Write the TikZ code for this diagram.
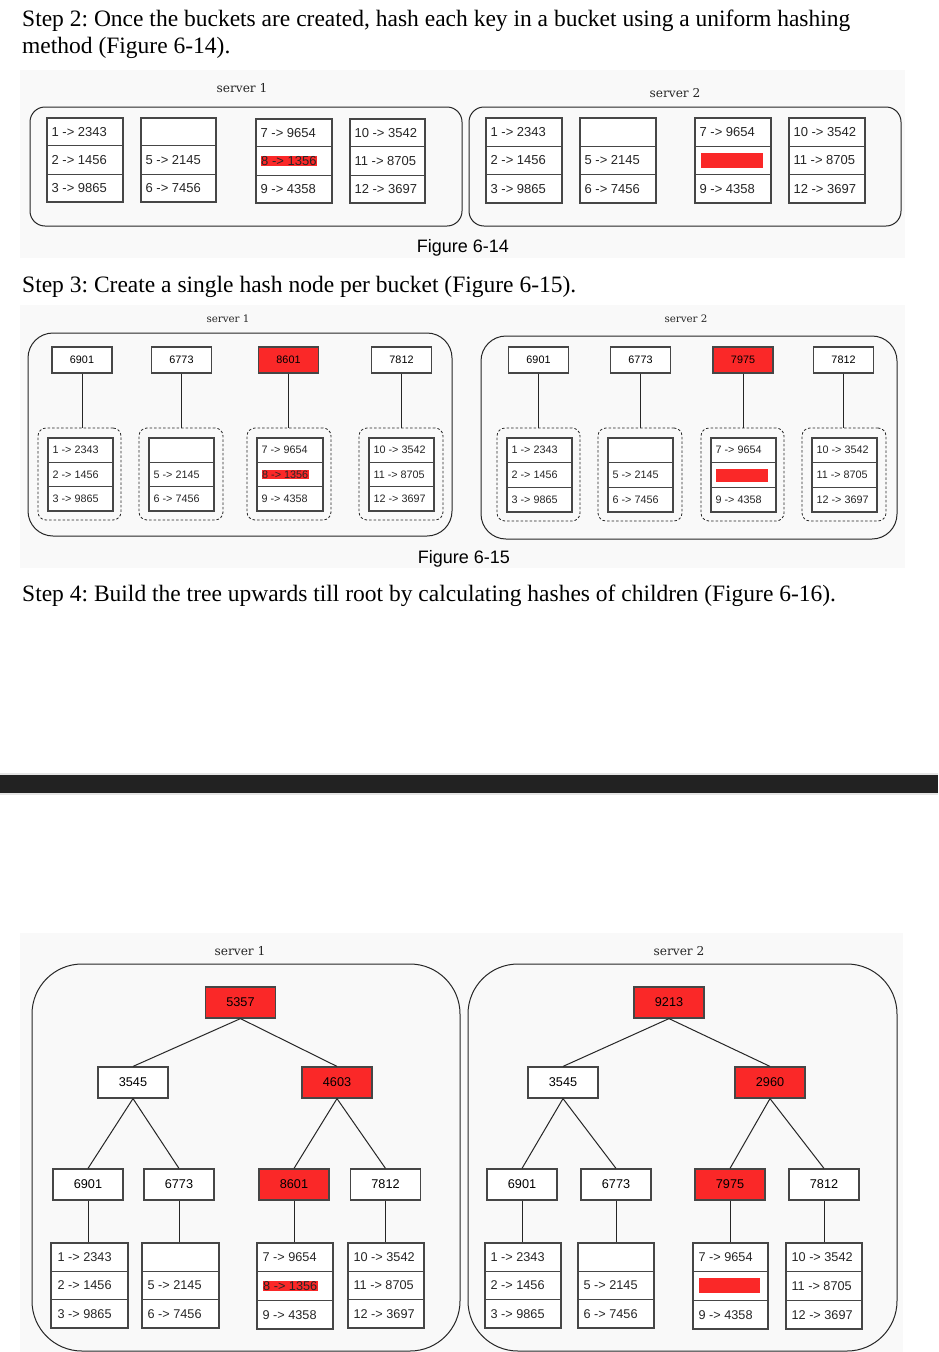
\documentclass[tikz,border=0pt]{standalone}
\usepackage{fontspec}
\setmainfont{Liberation Serif}
\newfontfamily\sansf{Liberation Sans}
\newfontfamily\srvf{DejaVu Serif}
\usetikzlibrary{fit,calc,shadows}
\frenchspacing
\definecolor{hred}{RGB}{250,40,40}
\definecolor{bord}{RGB}{70,70,70}
\definecolor{bgg}{RGB}{249,249,249}
\definecolor{barc}{RGB}{34,34,34}
\newcommand\hl[1]{{\setlength\fboxsep{0.6pt}\colorbox{hred}{#1}}}
\tikzset{
 tabbox/.style={draw=bord, line width=1.2pt, fill=white, inner sep=0pt,
   general shadow={fill=bord, shadow xshift=0.7pt, shadow yshift=-1.4pt}},
 rowline/.style={draw=bord, line width=1.1pt},
 rowtxt/.style={anchor=west, inner sep=0pt, text=black!85},
 hnode/.style={draw=bord, line width=1.2pt, fill=white, inner sep=0pt,
   general shadow={fill=bord, shadow xshift=0.7pt, shadow yshift=-1.4pt}},
 redfill/.style={fill=hred},
 serverbox/.style={draw=black!85, line width=1pt, inner sep=0pt},
 dbox/.style={draw=black!85, dashed, dash pattern=on 2.5pt off 2pt, line width=0.8pt, rounded corners=8pt, inner sep=0pt},
 link/.style={draw=black!85, line width=1pt},
 srvlabel/.style={inner sep=0pt, text=black!85},
 heading/.style={anchor=base west, inner sep=0pt, font=\fontsize{23.5}{28}\selectfont},
 figcap/.style={anchor=base, inner sep=0pt, font=\sansf\fontsize{18}{20}\selectfont},
 redbar/.style={fill=hred, inner sep=0pt, draw=none},
}
% name, x1, y1, x2, y2, pad, row1, row2, row3
\newcommand\tabl[9]{%
 \node[tabbox, fit={(#2,#3)(#4,#5)}] (#1) {};
 \draw[rowline] ($(#1.north west)!1/3!(#1.south west)$) -- ($(#1.north east)!1/3!(#1.south east)$);
 \draw[rowline] ($(#1.north west)!2/3!(#1.south west)$) -- ($(#1.north east)!2/3!(#1.south east)$);
 \node[rowtxt] (#1r1) at ($(#1.north west)!1/6!(#1.south west)+(#6,0)$) {#7};
 \node[rowtxt] (#1r2) at ($(#1.north west)!1/2!(#1.south west)+(#6,0)$) {#8};
 \node[rowtxt] (#1r3) at ($(#1.north west)!5/6!(#1.south west)+(#6,0)$) {#9};
}
\begin{document}
\begin{tikzpicture}[x=1pt,y=-1pt]
\useasboundingbox (0,0) rectangle (938,1352);
\fill[white] (0,0) rectangle (938,1352);
% backgrounds
\fill[bgg] (20,70) rectangle (905,258);
\fill[bgg] (20,305) rectangle (905,568);
\fill[bgg] (20,933) rectangle (903,1352);
\fill[black!10] (0,773) rectangle (938,795);
\fill[barc] (0,775) rectangle (938,793);

% headings
\node[heading] (h2a) at (22,26) {Step 2: Once the buckets are created, hash each key in a bucket using a uniform hashing};
\node[heading] (h2b) at (22,53) {method (Figure 6-14).};
\node[figcap] (c14) at (463,252) {Figure 6-14};
\node[heading] (h3) at (22,292) {Step 3: Create a single hash node per bucket (Figure 6-15).};
\node[figcap] (c15) at (464,563) {Figure 6-15};
\node[heading] (h4) at (22,601) {Step 4: Build the tree upwards till root by calculating hashes of children (Figure 6-16).};

% ================= Figure 6-14 =================
\node[srvlabel, font=\srvf\fontsize{12.2}{14}\selectfont] (l14a) at (242,88) {server 1};
\node[srvlabel, font=\srvf\fontsize{12.2}{14}\selectfont] (l14b) at (675,93) {server 2};
\node[serverbox, rounded corners=15pt, fit={(30,107)(462,226)}] (s14a) {};
\node[serverbox, rounded corners=15pt, fit={(469,107)(901,226)}] (s14b) {};
\begin{scope}[rowtxt/.append style={font=\sansf\fontsize{13}{15}\selectfont}]
\tabl{a1}{47}{118}{123}{202}{5}{1 -> 2343}{2 -> 1456}{3 -> 9865}
\tabl{a2}{141}{118}{216}{202}{5}{}{5 -> 2145}{6 -> 7456}
\tabl{a3}{256}{119}{332}{203}{5}{7 -> 9654}{\hl{8 -> 1356}}{9 -> 4358}
\tabl{a4}{350}{119}{425}{203}{5}{10 -> 3542}{11 -> 8705}{12 -> 3697}
\tabl{b1}{486}{118}{562}{203}{5}{1 -> 2343}{2 -> 1456}{3 -> 9865}
\tabl{b2}{580}{118}{656}{203}{5}{}{5 -> 2145}{6 -> 7456}
\tabl{b3}{695}{118}{771}{203}{5}{7 -> 9654}{}{9 -> 4358}
\tabl{b4}{789}{118}{865}{203}{5}{10 -> 3542}{11 -> 8705}{12 -> 3697}
\end{scope}
\node[redbar, fit={(701,153)(763,168)}] (bar14) {};

% ================= Figure 6-15 =================
\node[srvlabel, font=\srvf\fontsize{10.3}{12}\selectfont] (l15a) at (228,319) {server 1};
\node[srvlabel, font=\srvf\fontsize{10.3}{12}\selectfont] (l15b) at (686,319) {server 2};
\node[serverbox, rounded corners=25pt, fit={(28,333)(452,536)}] (s15a) {};
\node[serverbox, rounded corners=25pt, fit={(481,336)(897,539)}] (s15b) {};
\begin{scope}[hnode/.append style={minimum width=60pt, minimum height=26pt, font=\sansf\fontsize{10.8}{12}\selectfont}]
\node[hnode] (p1) at (82,360) {6901};
\node[hnode] (p2) at (181.5,360) {6773};
\node[hnode, redfill] (p3) at (288.5,360) {8601};
\node[hnode] (p4) at (401.5,360) {7812};
\node[hnode] (q1) at (538.5,360) {6901};
\node[hnode] (q2) at (640.5,360) {6773};
\node[hnode, redfill] (q3) at (743,360) {7975};
\node[hnode] (q4) at (843.5,360) {7812};
\end{scope}
\node[dbox, fit={(38,428)(121,520)}] (dp1) {};
\node[dbox, fit={(139,428)(223,520)}] (dp2) {};
\node[dbox, fit={(247,428)(331,520)}] (dp3) {};
\node[dbox, fit={(359,428)(443,520)}] (dp4) {};
\node[dbox, fit={(497,428)(580,521)}] (dq1) {};
\node[dbox, fit={(598,428)(682,521)}] (dq2) {};
\node[dbox, fit={(701,428)(784,521)}] (dq3) {};
\node[dbox, fit={(802,428)(886,521)}] (dq4) {};
\foreach \n in {p1,p2,p3,p4}{\draw[link] (\n.south) -- (\n.south |- dp1.north);}
\foreach \n in {q1,q2,q3,q4}{\draw[link] (\n.south) -- (\n.south |- dq1.north);}
\begin{scope}[rowtxt/.append style={font=\sansf\fontsize{10.8}{12}\selectfont}]
\tabl{c1}{48}{438}{113}{511}{5}{1 -> 2343}{2 -> 1456}{3 -> 9865}
\tabl{c2}{149}{438}{214}{511}{5}{}{5 -> 2145}{6 -> 7456}
\tabl{c3}{257}{438}{323}{511}{5}{7 -> 9654}{\hl{8 -> 1356}}{9 -> 4358}
\tabl{c4}{369}{438}{434}{511}{5}{10 -> 3542}{11 -> 8705}{12 -> 3697}
\tabl{e1}{507}{438}{572}{512}{5}{1 -> 2343}{2 -> 1456}{3 -> 9865}
\tabl{e2}{608}{438}{673}{512}{5}{}{5 -> 2145}{6 -> 7456}
\tabl{e3}{711}{438}{776}{512}{5}{7 -> 9654}{}{9 -> 4358}
\tabl{e4}{812}{438}{877}{512}{5}{10 -> 3542}{11 -> 8705}{12 -> 3697}
\end{scope}
\node[redbar, fit={(716,469)(768,482)}] (bar15) {};

% ================= Figure 6-16 =================
\node[srvlabel, font=\srvf\fontsize{12.2}{14}\selectfont] (l16a) at (240,951) {server 1};
\node[srvlabel, font=\srvf\fontsize{12.2}{14}\selectfont] (l16b) at (679,951) {server 2};
\node[serverbox, rounded corners=50pt, fit={(32,964)(460,1351)}] (s16a) {};
\node[serverbox, rounded corners=50pt, fit={(468,964)(897,1351)}] (s16b) {};
\begin{scope}[hnode/.append style={minimum width=70pt, minimum height=31pt, font=\sansf\fontsize{12.7}{14}\selectfont}]
\node[hnode, redfill] (r1) at (240.5,1002.5) {5357};
\node[hnode] (m1) at (133,1082.5) {3545};
\node[hnode, redfill] (m2) at (337,1082.5) {4603};
\node[hnode] (k1) at (88,1184.5) {6901};
\node[hnode] (k2) at (179,1184.5) {6773};
\node[hnode, redfill] (k3) at (294,1184.5) {8601};
\node[hnode] (k4) at (385.5,1184.5) {7812};
\node[hnode, redfill] (r2) at (669,1002.5) {9213};
\node[hnode] (n1) at (563,1082.5) {3545};
\node[hnode, redfill] (n2) at (770,1082.5) {2960};
\node[hnode] (j1) at (522,1184.5) {6901};
\node[hnode] (j2) at (616,1184.5) {6773};
\node[hnode, redfill] (j3) at (730,1184.5) {7975};
\node[hnode] (j4) at (824,1184.5) {7812};
\end{scope}
\draw[link] (r1.south) -- (m1.north);
\draw[link] (r1.south) -- (m2.north);
\draw[link] (m1.south) -- (k1.north);
\draw[link] (m1.south) -- (k2.north);
\draw[link] (m2.south) -- (k3.north);
\draw[link] (m2.south) -- (k4.north);
\draw[link] (r2.south) -- (n1.north);
\draw[link] (r2.south) -- (n2.north);
\draw[link] (n1.south) -- (j1.north);
\draw[link] (n1.south) -- (j2.north);
\draw[link] (n2.south) -- (j3.north);
\draw[link] (n2.south) -- (j4.north);
\begin{scope}[rowtxt/.append style={font=\sansf\fontsize{12.7}{14}\selectfont}]
\tabl{f1}{51}{1243}{128}{1328}{7}{1 -> 2343}{2 -> 1456}{3 -> 9865}
\tabl{f2}{142}{1243}{219}{1328}{6}{}{5 -> 2145}{6 -> 7456}
\tabl{f3}{257}{1243}{333}{1329}{6}{7 -> 9654}{\hl{8 -> 1356}}{9 -> 4358}
\tabl{f4}{348}{1243}{424}{1328}{6}{10 -> 3542}{11 -> 8705}{12 -> 3697}
\tabl{g1}{485}{1243}{561}{1328}{6}{1 -> 2343}{2 -> 1456}{3 -> 9865}
\tabl{g2}{578}{1243}{654}{1328}{6}{}{5 -> 2145}{6 -> 7456}
\tabl{g3}{693}{1243}{768}{1329}{6}{7 -> 9654}{}{9 -> 4358}
\tabl{g4}{786}{1243}{862}{1329}{6}{10 -> 3542}{11 -> 8705}{12 -> 3697}
\end{scope}
\node[redbar, fit={(699,1278)(760,1293)}] (bar16) {};
\draw[link] (k1.south) -- (f1.north -| k1.south);
\draw[link] (k2.south) -- (f2.north -| k2.south);
\draw[link] (k3.south) -- (f3.north -| k3.south);
\draw[link] (k4.south) -- (f4.north -| k4.south);
\draw[link] (j1.south) -- (g1.north -| j1.south);
\draw[link] (j2.south) -- (g2.north -| j2.south);
\draw[link] (j3.south) -- (g3.north -| j3.south);
\draw[link] (j4.south) -- (g4.north -| j4.south);
\end{tikzpicture}
\end{document}
